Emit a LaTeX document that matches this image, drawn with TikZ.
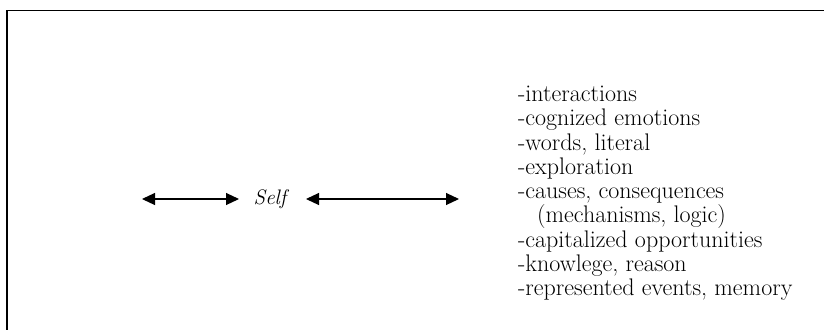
\documentclass[tikz,border=0pt]{standalone}
\usetikzlibrary{arrows.meta}
\begin{document}
\begin{tikzpicture}[x=1pt,y=1pt,
  frame/.style={line width=1.4pt},
  dblarrow/.style={line width=1.1pt,{Triangle[length=13pt,width=12pt]}-{Triangle[length=13pt,width=12pt]}},
  listtext/.style={font=\fontsize{24}{24.25}\selectfont,align=left,inner sep=0pt,anchor=north west},
  selftext/.style={font=\fontsize{21}{24}\selectfont\itshape,inner sep=0pt}]
\useasboundingbox (0,0) rectangle (824,-330);
% frame (top and left edges)
\coordinate (ftl) at (7,-10.5);
\coordinate (ftr) at (824,-10.5);
\coordinate (fbl) at (7,-330);
\draw[frame] (ftr) -- (ftl) -- (fbl);
% Self
\node[selftext,anchor=base] (self) at (270,-204) {Self};
\coordinate (la) at (142,-199);
\coordinate (lb) at (239,-199);
\coordinate (ra) at (306,-199);
\coordinate (rb) at (459,-199);
\draw[dblarrow] (la) -- (lb);
\draw[dblarrow] (ra) -- (rb);
% list
\node[listtext] (list) at (518,-86) {%
-interactions\\
-cognized emotions\\
-words, literal\\
-exploration\\
-causes, consequences\\
\hspace*{19pt}(mechanisms, logic)\\
-capitalized opportunities\\
-knowlege, reason\\
-represented events, memory};
\end{tikzpicture}
\end{document}
